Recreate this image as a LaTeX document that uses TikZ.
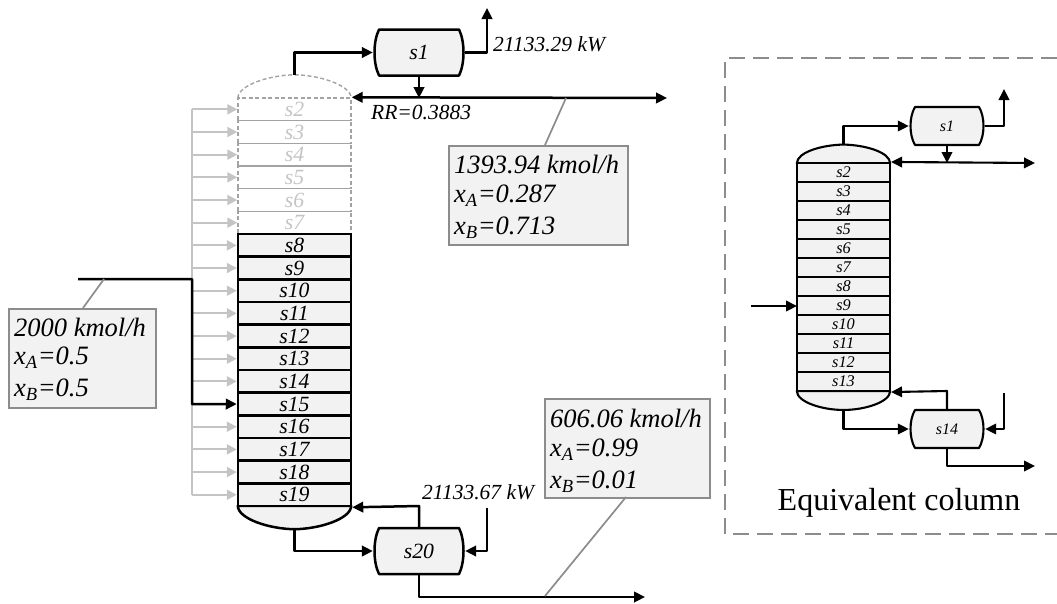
\documentclass[tikz,border=0pt]{standalone}
\usepackage{fontspec}
\setmainfont{Liberation Serif}
\usetikzlibrary{arrows.meta, calc}

% vessel outline around a named node: {node}{half width}{half height}
\newcommand{\vessel}[3]{
  \draw[#1line, fill=panel] ($(#2)+(-#3+6,-23*#3/46)$) -- ($(#2)+(#3-6,-23*#3/46)$)
    .. controls ($(#2)+(#3,-11*#3/46)$) and ($(#2)+(#3,11*#3/46)$) .. ($(#2)+(#3-6,23*#3/46)$)
    -- ($(#2)+(-#3+6,23*#3/46)$)
    .. controls ($(#2)+(-#3,11*#3/46)$) and ($(#2)+(-#3,-11*#3/46)$) .. cycle;
}

\begin{document}
\begin{tikzpicture}[x=1pt, y=-1pt, >={Triangle[length=11pt, width=10.5pt]},
    every node/.style={font=\fontsize{21.7}{24}\selectfont\itshape},
    vline/.style={line width=2.5pt, line join=round},
    thinline/.style={line width=2.1pt, line join=round},
    greyline/.style={line width=2pt, draw=ghost},
    leader/.style={line width=1.7pt, draw=leadgrey},
    ghostdash/.style={draw=leadgrey!80, dash pattern=on 4pt off 2.5pt, line width=1.4pt},
    stage/.style={rectangle, draw, line width=2.5pt, fill=panel, minimum width=113pt, minimum height=22.67pt, inner sep=0pt},
    ghoststage/.style={rectangle, ghostdash, text=ghost, minimum width=113pt, minimum height=22.67pt, inner sep=0pt},
    smallstage/.style={rectangle, draw, line width=2.1pt, fill=panel, minimum width=93pt, minimum height=19pt, inner sep=0pt, font=\fontsize{16.3}{18}\selectfont\itshape},
    vesselnode/.style={rectangle, minimum width=92pt, minimum height=46pt, inner sep=0pt},
    smallvessel/.style={rectangle, minimum width=76pt, minimum height=38pt, inner sep=0pt, font=\fontsize{16}{18}\selectfont\itshape},
    dome/.style={rectangle, minimum width=113pt, minimum height=23pt, inner sep=0pt},
    smalldome/.style={rectangle, minimum width=93pt, minimum height=18.5pt, inner sep=0pt},
    databox/.style={rectangle, draw=leadgrey, line width=2pt, fill=panel, inner sep=0pt},
    boxtext/.style={anchor=west, inner sep=0pt, font=\fontsize{26.5}{28}\selectfont\itshape},
    note/.style={anchor=west, inner sep=0pt, font=\fontsize{21.5}{24}\selectfont\itshape}]
    \definecolor{panel}{HTML}{F2F2F2}
    \definecolor{ghost}{HTML}{C4C4C4}
    \definecolor{leadgrey}{HTML}{8C8C8C}
    \useasboundingbox (0,0) rectangle (1057,603);

    % Main column
    \node[dome] (topdome) at (294.5,86.5) {};
    \node[dome] (botdome) at (294.5,517.5) {};
    \draw[ghostdash] (topdome.south west) .. controls (238,85) and (270,75) .. (topdome.north)
        .. controls (319,75) and (351,85) .. (topdome.south east);
    \draw[vline, fill=panel] (botdome.north west) .. controls (238,519) and (270,529) .. (botdome.south)
        .. controls (319,529) and (351,519) .. (botdome.north east) -- cycle;
    \foreach \n in {2,...,7} {
      \node[ghoststage] (st\n) at (294.5,{98+22.67*(\n-1.5)}) {s\n};
    }
    \foreach \n in {8,...,19} {
      \node[stage] (st\n) at (294.5,{98+22.67*(\n-1.5)}) {s\n};
    }

    % Feed bus
    \coordinate (bustop) at (192,109.3);
    \coordinate (busbot) at (192,494.7);
    \draw[greyline] (bustop) -- (busbot);
    \foreach \n in {2,...,14,16,17,18,19} {
      \draw[greyline, ->, >={Triangle[length=10pt, width=10pt]}, ghost] (192,{98+22.67*(\n-1.5)}) -- (st\n.west);
    }
    \coordinate (feedin) at (78,279);
    \draw[vline, ->] (feedin) -- (192,279) -- (192,404) -- (st15.west);

    % Condenser and reboiler
    \node[vesselnode] (s1) at (419,52.5) {};
    \node[vesselnode] (s20) at (419,551) {};
    \vessel{v}{s1}{46}
    \vessel{v}{s20}{46}
    \node at (s1) {s1};
    \node at (s20) {s20};
    \coordinate (dutytop) at (487,8);
    \coordinate (dutybot) at (487,508);
    \coordinate (refluxend) at (667,98);
    \coordinate (productend) at (645,597);
    \draw[vline, ->] (topdome.north) -- (294.5,52.5) -- (s1.west);
    \draw[vline, ->] (s1.east) -- (487,52.5) -- (dutytop);
    \draw[vline, ->] (s1.south) -- (419,98);
    \draw[vline, <->] (st2.north east) -- (refluxend);
    \draw[vline, ->] (botdome.south) -- (294.5,551) -- (s20.west);
    \draw[vline, ->] (s20.north) -- (419,506) -- (st19.south east);
    \draw[vline, ->] (dutybot) -- (487,551) -- (s20.east);
    \draw[vline, ->] (s20.south) -- (419,597) -- (productend);

    \node[note] (rr) at (371,112) {RR=0.3883};
    \node[note] (qtop) at (493,44) {21133.29 kW};
    \node[note] (qbot) at (422,492) {21133.67 kW};

    % Data boxes
    \node[databox, anchor=north west, minimum width=147pt, minimum height=99pt] (feedbox) at (8,308) {};
    \node[boxtext] (feedflow) at (14,327) {2000 kmol/h};
    \node[boxtext] (feedxa) at (14,358) {x\textsubscript{A}=0.5};
    \node[boxtext] (feedxb) at (14,390) {x\textsubscript{B}=0.5};
    \node[databox, anchor=north west, minimum width=179pt, minimum height=99pt] (distbox) at (448,145) {};
    \node[boxtext] (distflow) at (454,164) {1393.94 kmol/h};
    \node[boxtext] (distxa) at (454,196) {x\textsubscript{A}=0.287};
    \node[boxtext] (distxb) at (454,228) {x\textsubscript{B}=0.713};
    \node[databox, anchor=north west, minimum width=165pt, minimum height=99pt] (botbox) at (544,398) {};
    \node[boxtext] (botflow) at (550,418) {606.06 kmol/h};
    \node[boxtext] (botxa) at (550,450) {x\textsubscript{A}=0.99};
    \node[boxtext] (botxb) at (550,482) {x\textsubscript{B}=0.01};
    \draw[leader] (104,279) -- (83,308);
    \draw[leader] (566,98) -- (545,145);
    \draw[leader] (626,497) -- (545,596);

    % Equivalent column
    \coordinate (framene) at (1057,58);
    \coordinate (framenw) at (725,58);
    \coordinate (framesw) at (725,534);
    \coordinate (framese) at (1057,534);
    \draw[leadgrey, line width=2pt, dash pattern=on 16pt off 8pt] (framene) -- (framenw) -- (framesw) -- (framese);
    \node[smalldome] (topsmall) at (843.5,154) {};
    \node[smalldome] (botsmall) at (843.5,400.5) {};
    \draw[thinline, fill=panel] (topsmall.south west) .. controls (797,152) and (822,145) .. (topsmall.north)
        .. controls (865,145) and (890,152) .. (topsmall.south east) -- cycle;
    \draw[thinline, fill=panel] (botsmall.north west) .. controls (797,402) and (822,410) .. (botsmall.south)
        .. controls (865,410) and (890,402) .. (botsmall.north east) -- cycle;
    \foreach \n in {2,...,13} {
      \node[smallstage] (eq\n) at (843.5,{163+19*(\n-1.5)}) {s\n};
    }
    \node[smallvessel] (e1) at (947,126) {};
    \node[smallvessel] (e14) at (947,429) {};
    \vessel{thin}{e1}{38}
    \vessel{thin}{e14}{38}
    \node[smallvessel] at (e1) {s1};
    \node[smallvessel] at (e14) {s14};
    \coordinate (eqduty) at (1004,89);
    \coordinate (eqdutyb) at (1004,393);
    \coordinate (eqreflux) at (1035,163);
    \coordinate (eqprod) at (1035,466);
    \coordinate (eqfeed) at (751,306);
    \draw[thinline, ->] (topsmall.north) -- (843.5,126) -- (e1.west);
    \draw[thinline, ->] (e1.east) -- (1004,126) -- (eqduty);
    \draw[thinline, ->] (e1.south) -- (947,163);
    \draw[thinline, <->] (eq2.north east) -- (eqreflux);
    \draw[thinline, ->] (eqfeed) -- (797,306);
    \draw[thinline, ->] (botsmall.south) -- (843.5,429) -- (e14.west);
    \draw[thinline, ->] (e14.north) -- (947,391) -- (eq13.south east);
    \draw[thinline, ->] (eqdutyb) -- (1004,429) -- (e14.east);
    \draw[thinline, ->] (e14.south) -- (947,466) -- (eqprod);
    \node[font=\fontsize{32}{34}\selectfont] (eqtitle) at (899,503) {Equivalent column};
\end{tikzpicture}
\end{document}
